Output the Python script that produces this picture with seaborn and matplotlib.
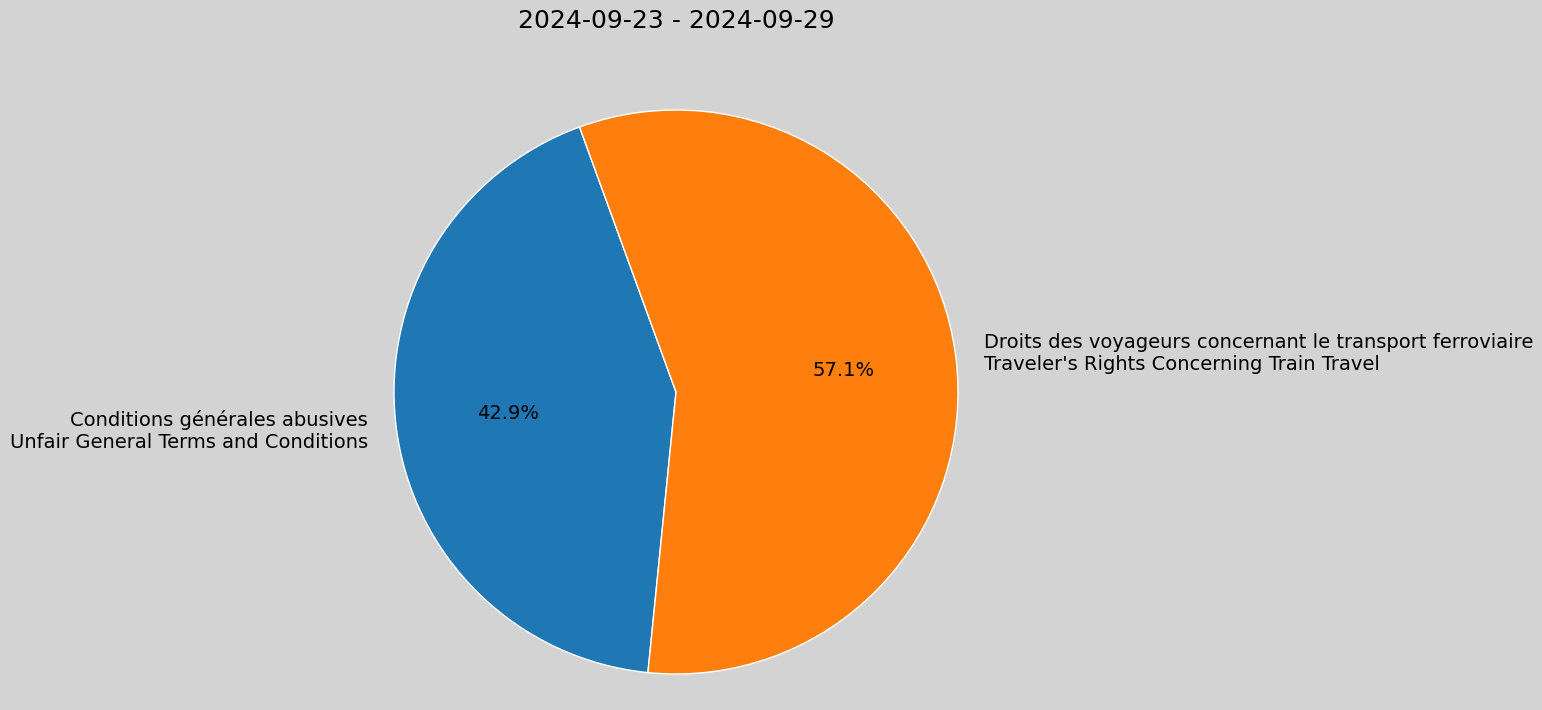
import matplotlib
matplotlib.use("Agg")
import matplotlib.pyplot as plt
import seaborn as sns

# data
labels = [
    "Conditions générales abusives\nUnfair General Terms and Conditions",
    "Droits des voyageurs concernant le transport ferroviaire\nTraveler's Rights Concerning Train Travel",
]
counts = [3, 4]
title = "2024-09-23 - 2024-09-29"

colors = sns.color_palette("tab10", 2)

fig = plt.figure(figsize=(15.42, 7.10), dpi=100, facecolor="lightgray")
ax = fig.add_axes([394 / 1542, 36 / 710, 564 / 1542, 564 / 710])
ax.set_facecolor("lightgray")
ax.pie(counts, labels=labels, colors=colors, autopct="%1.1f%%", startangle=110,
       wedgeprops={"edgecolor": "white", "linewidth": 1},
       textprops={"fontsize": 14})
ax.set_xlim(-1, 1)
ax.set_ylim(-1, 1)
ax.set_aspect("equal")
fig.text(676 / 1542, 1 - 21 / 710, title, ha="center", va="center", fontsize=18)

fig.savefig("out.png", dpi=100, facecolor="lightgray")
